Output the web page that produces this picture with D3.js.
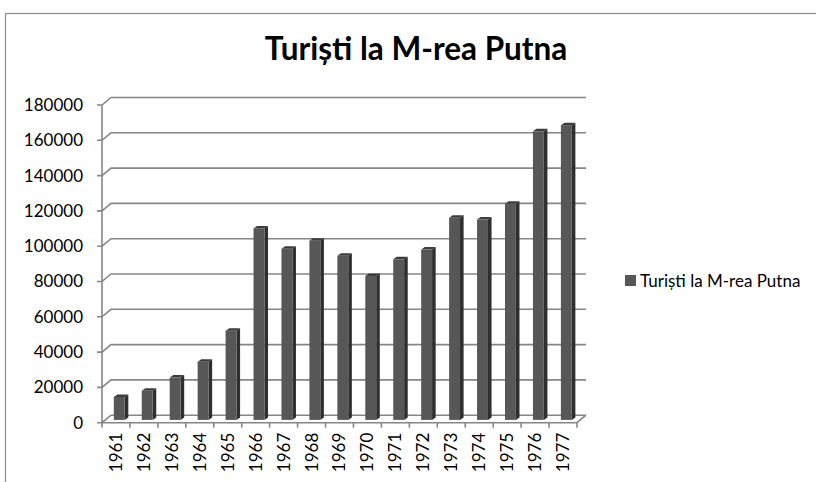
<!DOCTYPE html>
<html>
<head>
<meta charset="utf-8">
<script src="https://cdnjs.cloudflare.com/ajax/libs/d3/7.8.5/d3.min.js"></script>
<style>
  body { margin: 0; background: #fff; }
  text { font-family: Lato, "Open Sans", sans-serif; }
</style>
</head>
<body>
<div id="chart"></div>
<script>
var years = ["1961", "1962", "1963", "1964", "1965", "1966", "1967", "1968", "1969",
  "1970", "1971", "1972", "1973", "1974", "1975", "1976", "1977"];
var tourists = [13000, 16500, 24000, 33000, 50500, 108500, 97000, 101500, 93000,
  81500, 91000, 96500, 114500, 113500, 122500, 163500, 167000];
var yTicks = [0, 20000, 40000, 60000, 80000, 100000, 120000, 140000, 160000, 180000];
var seriesName = "Turiști la M-rea Putna";

var svgWidth = 816;
var svgHeight = 482;

// front plane of the 3D box
var plot = { left: 102, right: 577, top: 105, bottom: 422.7 };
// depth of the box (back wall offset)
var depth = { dx: 9, dy: -7.5 };
// bars sit part way into the box
var barPlane = { dx: 3.3, dy: -2.8 };
var barDepth = { dx: 3.6, dy: -2.5 };
var labelSize = "17px";

var svg = d3.select("#chart")
  .append("svg")
  .attr("width", svgWidth)
  .attr("height", svgHeight);

svg.append("rect")
  .attr("width", svgWidth)
  .attr("height", svgHeight)
  .attr("fill", "white");

// outer frame
svg.append("rect")
  .attr("x", 5.5)
  .attr("y", 13.5)
  .attr("width", 830)
  .attr("height", 500)
  .attr("fill", "none")
  .attr("stroke", "#8c8c8c")
  .attr("stroke-width", 1.2);

svg.append("text")
  .attr("x", 416)
  .attr("y", 60)
  .attr("text-anchor", "middle")
  .attr("font-size", "31.5px")
  .attr("font-weight", "bold")
  .attr("fill", "#000")
  .text(seriesName);

var xScale = d3.scaleBand()
  .domain(years)
  .range([plot.left, plot.right])
  .paddingInner(0)
  .paddingOuter(0);

var yScale = d3.scaleLinear()
  .domain([0, 180000])
  .range([plot.bottom, plot.top]);

var gridColor = "#868686";

// gridlines: front tick, slant along left wall, back wall line
var grid = svg.append("g");
yTicks.forEach(function(v) {
  var y = yScale(v);
  grid.append("path")
    .attr("d", "M" + (plot.left - 5) + "," + y +
      "L" + plot.left + "," + y +
      "L" + (plot.left + depth.dx) + "," + (y + depth.dy) +
      "L" + (plot.right + depth.dx) + "," + (y + depth.dy))
    .attr("fill", "none")
    .attr("stroke", gridColor)
    .attr("stroke-width", 1.6);
});

// floor front edge and right edge
grid.append("path")
  .attr("d", "M" + plot.left + "," + plot.bottom +
    "L" + plot.right + "," + plot.bottom +
    "L" + (plot.right + depth.dx) + "," + (plot.bottom + depth.dy))
  .attr("fill", "none")
  .attr("stroke", gridColor)
  .attr("stroke-width", 1.6);

// vertical axis line
grid.append("line")
  .attr("x1", plot.left).attr("x2", plot.left)
  .attr("y1", plot.top).attr("y2", plot.bottom + 5)
  .attr("stroke", gridColor)
  .attr("stroke-width", 1.6);

// category ticks
var boundaries = years.map(function(d) { return xScale(d) + xScale.bandwidth(); });
svg.append("g").selectAll("line")
  .data(boundaries)
  .enter()
  .append("line")
  .attr("x1", d => d).attr("x2", d => d)
  .attr("y1", plot.bottom).attr("y2", plot.bottom + 5)
  .attr("stroke", gridColor)
  .attr("stroke-width", 1.6);

// y labels
svg.append("g").selectAll("text")
  .data(yTicks)
  .enter()
  .append("text")
  .attr("x", 83)
  .attr("y", d => yScale(d))
  .attr("dy", "0.35em")
  .attr("text-anchor", "end")
  .attr("font-size", labelSize)
  .attr("fill", "#000")
  .text(d => d);

// x labels (rotated)
svg.append("g").selectAll("text")
  .data(years)
  .enter()
  .append("text")
  .attr("transform", d => "translate(" + (xScale(d) + xScale.bandwidth() / 2) + "," + (plot.bottom + 10) + ") rotate(-90)")
  .attr("dy", "0.35em")
  .attr("text-anchor", "end")
  .attr("font-size", labelSize)
  .attr("fill", "#000")
  .text(d => d);

// bars
var barW = xScale.bandwidth() * 0.39;
var bars = svg.append("g").selectAll("g")
  .data(years.map(function(y, i) { return { year: y, value: tourists[i] }; }))
  .enter()
  .append("g");

function barX(d) {
  return xScale(d.year) + (xScale.bandwidth() - barW) / 2 + barPlane.dx;
}

// side face
bars.append("path")
  .attr("d", function(d) {
    var x = barX(d) + barW;
    var yT = yScale(d.value) + barPlane.dy;
    var yB = yScale(0) + barPlane.dy;
    return "M" + x + "," + yB + "L" + x + "," + yT +
      "L" + (x + barDepth.dx) + "," + (yT + barDepth.dy) +
      "L" + (x + barDepth.dx) + "," + (yB + barDepth.dy) + "Z";
  })
  .attr("fill", "#2f2f2f");

// top face
bars.append("path")
  .attr("d", function(d) {
    var x = barX(d);
    var yT = yScale(d.value) + barPlane.dy;
    return "M" + x + "," + yT + "L" + (x + barW) + "," + yT +
      "L" + (x + barW + barDepth.dx) + "," + (yT + barDepth.dy) +
      "L" + (x + barDepth.dx) + "," + (yT + barDepth.dy) + "Z";
  })
  .attr("fill", "#3c3c3c");

// front face
bars.append("rect")
  .attr("x", barX)
  .attr("y", d => yScale(d.value) + barPlane.dy)
  .attr("width", barW)
  .attr("height", d => yScale(0) - yScale(d.value))
  .attr("fill", "#575757");

// legend
svg.append("rect")
  .attr("x", 625)
  .attr("y", 275)
  .attr("width", 11)
  .attr("height", 11)
  .attr("fill", "#575757");

svg.append("text")
  .attr("x", 640)
  .attr("y", 281)
  .attr("dy", "0.35em")
  .attr("font-size", labelSize)
  .attr("fill", "#000")
  .text(seriesName);
</script>
</body>
</html>
